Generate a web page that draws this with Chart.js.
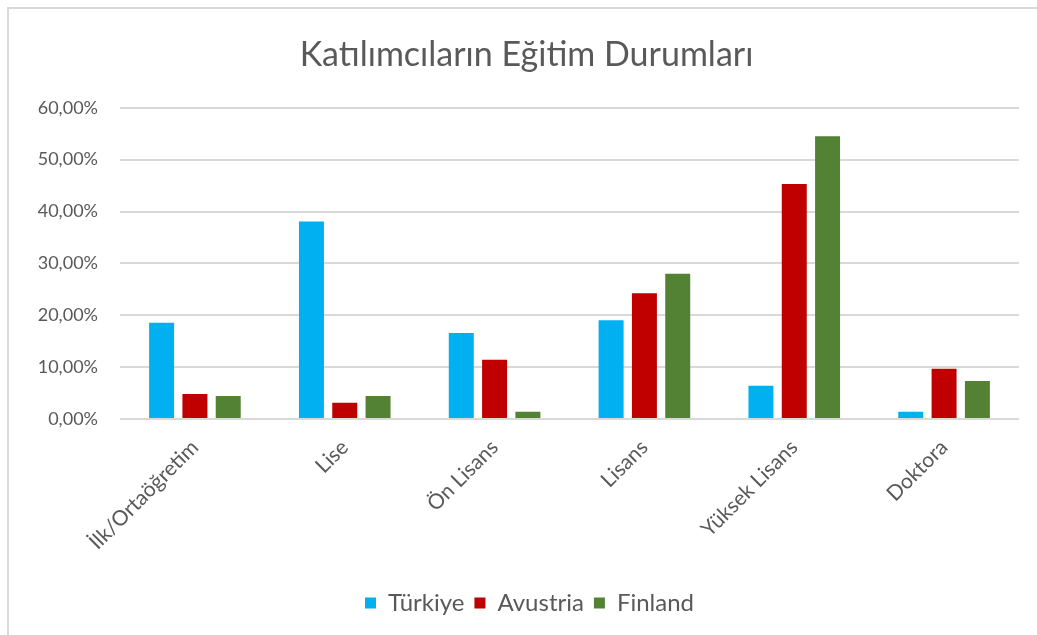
<!DOCTYPE html>
<html>
<head>
<meta charset="utf-8">
<script src="https://cdn.jsdelivr.net/npm/chart.js@4.4.1/dist/chart.umd.min.js"></script>
<style>
  html, body { margin: 0; padding: 0; background: #fff; }
  #wrap { position: relative; width: 1037px; height: 635px; overflow: hidden; }
  #frame { position: absolute; left: 7px; top: 7px; width: 1100px; height: 700px;
           border-left: 2px solid #d9d9d9; border-top: 2px solid #d9d9d9; box-sizing: border-box; }
  canvas { position: absolute; left: 0; top: 0; }
</style>
</head>
<body>
<div id="wrap">
  <div id="frame"></div>
  <canvas id="c" width="1037" height="635"></canvas>
</div>
<script>
const categories = ['İlk/Ortaöğretim', 'Lise', 'Ön Lisans', 'Lisans', 'Yüksek Lisans', 'Doktora'];
const turkiye  = [18.58, 38.10, 16.57, 19.03, 6.39, 1.41];
const avustria = [4.84, 3.15, 11.40, 24.25, 45.30, 9.67];
const finland  = [4.45, 4.45, 1.41, 28.00, 54.50, 7.35];
const seriesNames = ['Türkiye', 'Avustria', 'Finland'];
const yTicks = [0, 10, 20, 30, 40, 50, 60];

const FONT = 'Lato, "Open Sans", "DejaVu Sans", sans-serif';
const GREY = '#595959';

const shiftBlocks = {
  id: 'shiftBlocks',
  afterLayout(chart) {
    const t = chart.titleBlock;
    if (t) { t.left += 17; t.right += 17; }
    const l = chart.legend;
    if (l) { l.left += 20; l.right += 20; }
  }
};

new Chart(document.getElementById('c'), {
  type: 'bar',
  data: {
    labels: categories,
    datasets: [
      { label: seriesNames[0], data: turkiye,  backgroundColor: '#00B0F0' },
      { label: seriesNames[1], data: avustria, backgroundColor: '#C00000' },
      { label: seriesNames[2], data: finland,  backgroundColor: '#548235' }
    ]
  },
  plugins: [shiftBlocks],
  options: {
    responsive: false,
    animation: false,
    devicePixelRatio: 1,
    categoryPercentage: 0.667,
    barPercentage: 0.75,
    layout: { padding: { left: 0, right: 18, top: 0, bottom: 10 } },
    plugins: {
      title: {
        display: true,
        text: 'Katılımcıların Eğitim Durumları',
        color: GREY,
        font: { family: FONT, size: 34, weight: 'normal' },
        padding: { top: 35, bottom: 32 }
      },
      legend: {
        position: 'bottom',
        labels: {
          color: GREY,
          font: { family: FONT, size: 24 },
          boxWidth: 11, boxHeight: 11,
          padding: 10
        }
      },
      tooltip: { enabled: false }
    },
    scales: {
      x: {
        grid: { display: false },
        border: { display: false },
        ticks: {
          color: GREY,
          font: { family: FONT, size: 21 },
          minRotation: 45, maxRotation: 45,
          padding: 8
        },
        afterFit: (s) => { s.height = 162; }
      },
      y: {
        min: 0, max: 60,
        afterBuildTicks: (s) => { s.ticks = yTicks.map(v => ({ value: v })); },
        grid: { color: '#d9d9d9', lineWidth: 2, drawTicks: false },
        border: { display: false },
        ticks: {
          color: GREY,
          font: { family: FONT, size: 18 },
          padding: 22,
          callback: (v) => v.toFixed(2).replace('.', ',') + '%'
        },
        afterFit: (s) => { s.width = 120; }
      }
    }
  }
});
</script>
</body>
</html>
